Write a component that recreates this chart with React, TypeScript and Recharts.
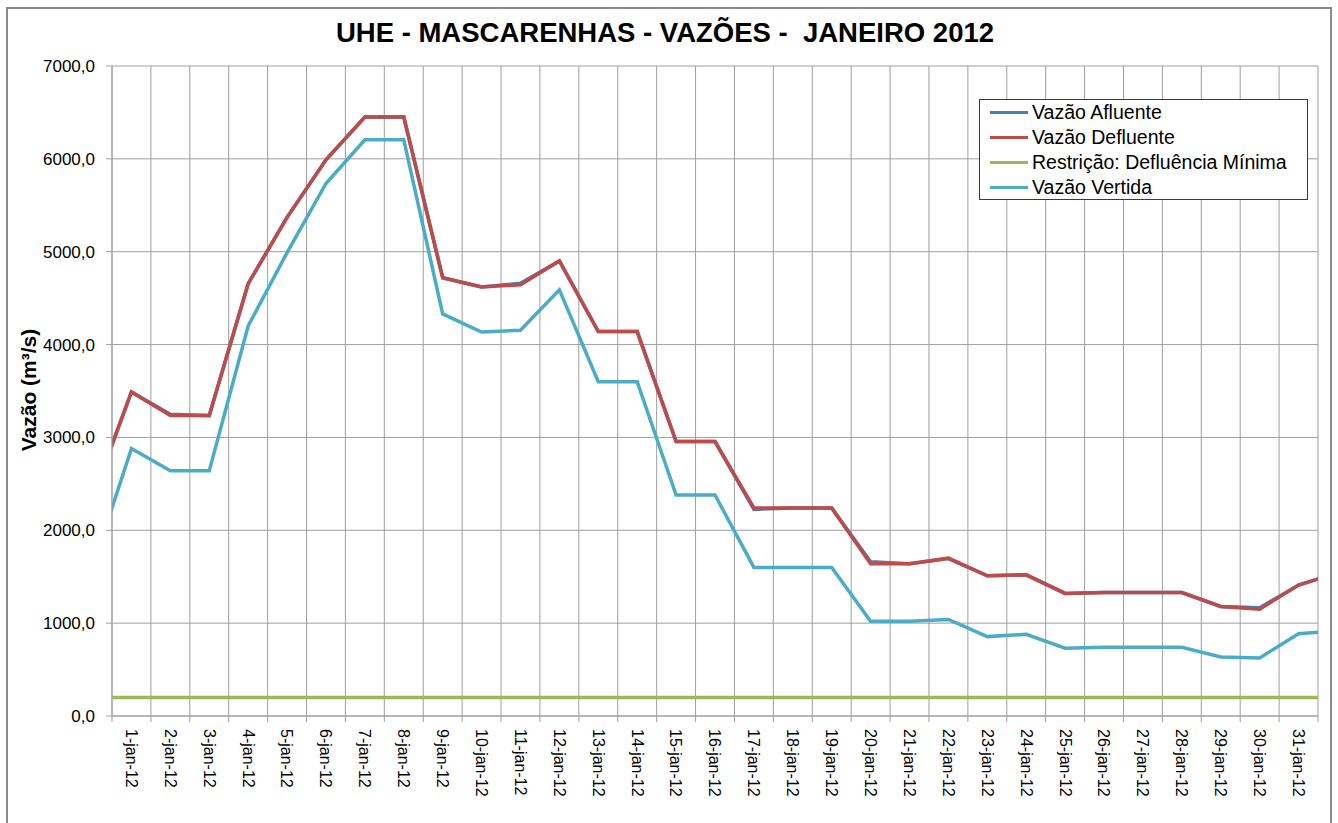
import { CartesianGrid, Legend, Line, LineChart, XAxis, YAxis } from "recharts";

// Dias do mês (o primeiro e o último ficam fora da área do gráfico, só dão a inclinação nas bordas)
const dates = [
  "31-dez-11",
  "1-jan-12", "2-jan-12", "3-jan-12", "4-jan-12", "5-jan-12", "6-jan-12", "7-jan-12", "8-jan-12",
  "9-jan-12", "10-jan-12", "11-jan-12", "12-jan-12", "13-jan-12", "14-jan-12", "15-jan-12", "16-jan-12",
  "17-jan-12", "18-jan-12", "19-jan-12", "20-jan-12", "21-jan-12", "22-jan-12", "23-jan-12", "24-jan-12",
  "25-jan-12", "26-jan-12", "27-jan-12", "28-jan-12", "29-jan-12", "30-jan-12", "31-jan-12",
  "1-fev-12",
];

const afluente = [
  2350, 3490, 3250, 3235, 4655, 5370, 5990, 6450, 6450, 4720, 4620, 4660, 4900, 4140, 4140, 2955, 2955,
  2225, 2240, 2240, 1660, 1640, 1695, 1510, 1520, 1320, 1330, 1330, 1330, 1180, 1165, 1410, 1540,
];
const defluente = [
  2350, 3490, 3235, 3235, 4655, 5370, 5990, 6450, 6450, 4720, 4620, 4645, 4900, 4140, 4140, 2955, 2955,
  2240, 2240, 2240, 1640, 1640, 1700, 1510, 1520, 1320, 1330, 1330, 1330, 1180, 1150, 1410, 1540,
];
const restricao = [
  200, 200, 200, 200, 200, 200, 200, 200, 200, 200, 200, 200, 200, 200, 200, 200, 200,
  200, 200, 200, 200, 200, 200, 200, 200, 200, 200, 200, 200, 200, 200, 200, 200,
];
const vertida = [
  1600, 2880, 2640, 2640, 4200, 4990, 5735, 6205, 6205, 4330, 4135, 4155, 4590, 3600, 3600, 2380, 2380,
  1600, 1600, 1600, 1020, 1020, 1040, 855, 880, 730, 740, 740, 740, 635, 625, 885, 920,
];

const seriesNames = ["Vazão Afluente", "Vazão Defluente", "Restrição: Defluência Mínima", "Vazão Vertida"];

const yTicks = [0, 1000, 2000, 3000, 4000, 5000, 6000, 7000];
// limites entre os dias: grade vertical e marcas do eixo
const dayBounds = [
  0.5, 1.5, 2.5, 3.5, 4.5, 5.5, 6.5, 7.5, 8.5, 9.5, 10.5, 11.5, 12.5, 13.5, 14.5, 15.5,
  16.5, 17.5, 18.5, 19.5, 20.5, 21.5, 22.5, 23.5, 24.5, 25.5, 26.5, 27.5, 28.5, 29.5, 30.5, 31.5,
];

const data = dates.map((d, i) => ({
  dia: i,
  data: d,
  afluente: afluente[i],
  defluente: defluente[i],
  restricao: restricao[i],
  vertida: vertida[i],
}));

const W = 1338;
const H = 823;
const margin = { top: 66, right: 20, left: 12, bottom: 7 };
const plotW = W - margin.left - 100 - margin.right;
const halfDay = plotW / 31 / 2;
const gridColor = "#9f9f9f";
const font = "'Liberation Sans', Arial, sans-serif";

function DayTick(props: any) {
  const { x, y, payload } = props;
  const i = payload.value + 0.5;
  if (i > 31) return null;
  return (
    <text
      transform={`translate(${x + halfDay}, ${y + 5}) rotate(90)`}
      dy="0.35em"
      textAnchor="start"
      fontSize={16}
      fill="#000"
      fontFamily={font}
    >
      {dates[i]}
    </text>
  );
}

function LegendBox(props: any) {
  const items = [...(props.payload || [])].sort(
    (a: any, b: any) => seriesNames.indexOf(a.value) - seriesNames.indexOf(b.value)
  );
  return (
    <div
      style={{
        width: 329,
        height: 101,
        boxSizing: "border-box",
        border: "1px solid #3a3a3a",
        background: "#fff",
        fontFamily: font,
        fontSize: 19.5,
        color: "#000",
      }}
    >
      {items.map((p: any) => (
        <div key={p.value} style={{ height: 25, display: "flex", alignItems: "center" }}>
          <span style={{ display: "inline-block", width: 38, height: 3, marginLeft: 10, marginRight: 4, background: p.color }} />
          <span>{p.value}</span>
        </div>
      ))}
    </div>
  );
}

export default function App() {
  return (
    <div
      style={{
        position: "absolute",
        left: 0,
        top: 0,
        width: W,
        height: H,
        overflow: "hidden",
        background: "#fff",
        fontFamily: font,
      }}
    >
      {/* moldura do gráfico */}
      <div
        style={{
          position: "absolute",
          left: 6,
          top: 7,
          width: 1326,
          height: 900,
          boxSizing: "border-box",
          border: "2px solid #8a8a8a",
        }}
      />
      <div
        style={{
          position: "absolute",
          left: 0,
          width: 1330,
          top: 17,
          textAlign: "center",
          fontSize: 27.5,
          fontWeight: "bold",
          color: "#000",
          whiteSpace: "pre",
        }}
      >
        {"UHE - MASCARENHAS - VAZÕES -  JANEIRO 2012"}
      </div>
      <div
        style={{
          position: "absolute",
          left: 29,
          top: 390,
          transform: "translate(-50%, -50%) rotate(-90deg)",
          fontSize: 21,
          fontWeight: "bold",
          color: "#000",
          whiteSpace: "nowrap",
        }}
      >
        Vazão (m³/s)
      </div>
      <div style={{ position: "absolute", left: 0, top: 0 }}>
        <LineChart width={W} height={H} data={data} margin={margin}>
          <CartesianGrid stroke={gridColor} strokeWidth={1} />
          <XAxis
            dataKey="dia"
            type="number"
            domain={[0.5, 31.5]}
            allowDataOverflow
            ticks={dayBounds}
            interval={0}
            height={100}
            tickSize={6}
            stroke={gridColor}
            tick={<DayTick />}
          />
          <YAxis
            domain={[0, 7000]}
            ticks={yTicks}
            interval={0}
            width={100}
            tickSize={6}
            tickMargin={11}
            stroke={gridColor}
            tick={{ fill: "#000", fontSize: 17, fontFamily: font }}
            tickFormatter={(v: number) => v.toFixed(1).replace(".", ",")}
          />
          <Legend
            layout="vertical"
            align="center"
            verticalAlign="middle"
            content={<LegendBox />}
            wrapperStyle={{ left: 979, top: 99, width: 329, height: 101 }}
          />
          <Line name={seriesNames[0]} dataKey="afluente" stroke="#4a7ebb" strokeWidth={3.5} dot={false} isAnimationActive={false} />
          <Line name={seriesNames[1]} dataKey="defluente" stroke="#be4b48" strokeWidth={3.5} dot={false} isAnimationActive={false} />
          <Line name={seriesNames[2]} dataKey="restricao" stroke="#98b954" strokeWidth={3.5} dot={false} isAnimationActive={false} />
          <Line name={seriesNames[3]} dataKey="vertida" stroke="#4bacc6" strokeWidth={3.5} dot={false} isAnimationActive={false} />
        </LineChart>
      </div>
    </div>
  );
}
